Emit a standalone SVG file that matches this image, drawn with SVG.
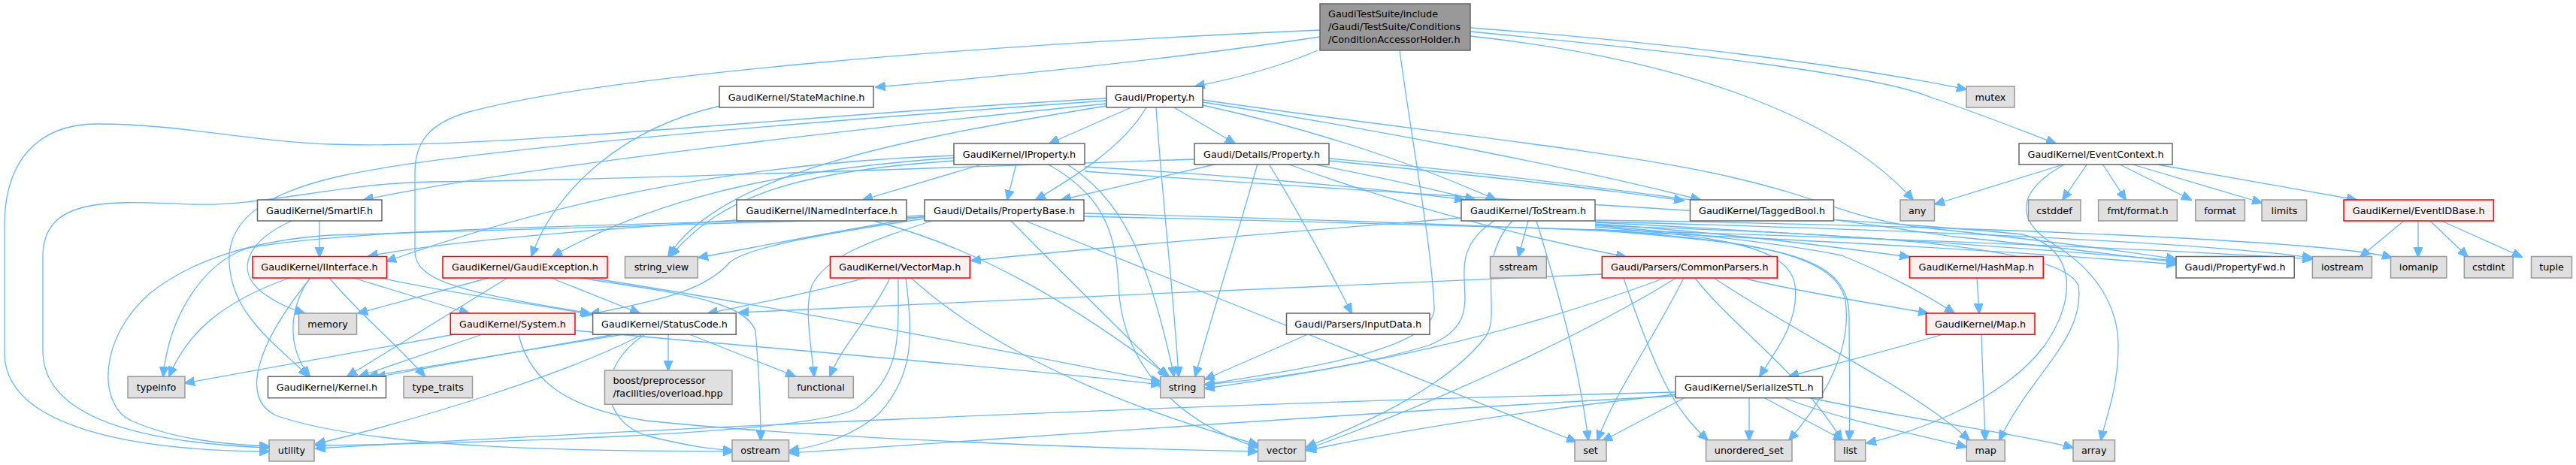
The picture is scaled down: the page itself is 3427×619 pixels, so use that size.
<svg xmlns="http://www.w3.org/2000/svg" width="3427" height="619" viewBox="0 0 3427 619">
<defs>
<marker id="ah" markerUnits="userSpaceOnUse" markerWidth="14" markerHeight="12" viewBox="0 0 13 11" refX="12" refY="5.5" orient="auto">
<path d="M0,0 L13,5.5 L0,11 z" fill="#63b8ff" stroke="#63b8ff"/>
</marker>
</defs>
<style>
rect{stroke-width:1.5}
.w rect{fill:#ffffff;stroke:#666666}
.g rect{fill:#e0e0e0;stroke:#999999}
.r rect{fill:#fff0f0;stroke:#ff0000}
.root rect{fill:#999999;stroke:#666666}
text{font-family:"DejaVu Sans",sans-serif;font-size:12.8px;fill:#000000}
.c{text-anchor:middle}
#edges path{fill:none;stroke:#63b8ff;stroke-width:1.3;marker-end:url(#ah)}
</style>
<rect width="3427" height="619" fill="#ffffff"/>
<g id="edges">
<path d="M1753,67 C1700,90 1640,105 1590,115"/>
<path d="M1756,49 C1550,80 1350,100 1165,116"/>
<path d="M1756,40 C1300,60 800,100 620,150 C570,165 552,190 552,230 L552,335 C552,375 620,390 785,417"/>
<path d="M1862,67 C1880,200 1905,330 1908,410 C1910,470 1700,495 1603,512"/>
<path d="M1956,37 C2200,55 2450,85 2616,119"/>
<path d="M1956,42 C2250,70 2500,100 2570,130 C2630,150 2680,170 2735,191"/>
<path d="M1956,48 C2250,80 2450,160 2545,266"/>
<path d="M958,141 C830,170 740,250 707,341"/>
<path d="M1505,143 L1396,191"/>
<path d="M1525,143 C1495,195 1430,235 1378,266"/>
<path d="M1538,143 C1545,250 1562,400 1568,501"/>
<path d="M1562,143 L1643,191"/>
<path d="M1600,140 C1760,175 1900,225 1990,266"/>
<path d="M1600,136 C1850,175 2100,225 2262,266"/>
<path d="M1600,133 C1850,170 2150,200 2300,235 C2420,262 2460,290 2550,302 C2700,318 2800,330 2895,345"/>
<path d="M1472,138 C1200,165 700,220 484,266"/>
<path d="M1472,141 C1200,185 960,230 889,341"/>
<path d="M1472,134 C1100,160 600,200 450,235 C340,260 302,300 305,350 C308,420 370,460 410,501"/>
<path d="M1472,131 C1100,150 650,200 440,192 C330,188 240,165 130,165 C45,165 6,220 6,300 L6,470 C6,560 150,600 358,601"/>
<path d="M1620,218 C1540,237 1470,252 1412,266"/>
<path d="M1673,218 C1650,300 1612,420 1590,501"/>
<path d="M1688,218 C1720,270 1770,360 1798,417"/>
<path d="M1745,218 C1830,235 1900,250 1962,266"/>
<path d="M1768,214 C1950,232 2120,250 2240,267"/>
<path d="M1712,218 C1800,250 1950,300 2163,342"/>
<path d="M1589,212 C1200,225 800,240 575,242 C450,244 350,275 257,272 C150,268 58,260 57,340 L57,470 C60,560 200,590 358,596"/>
<path d="M1768,211 C2050,235 2350,280 2600,315 C2750,330 2820,340 2895,349"/>
<path d="M1309,218 L1148,266"/>
<path d="M1352,218 L1340,266"/>
<path d="M1419,218 C1490,265 1525,330 1562,501"/>
<path d="M1393,218 C1460,255 1485,300 1488,380 C1492,480 1560,560 1674,596"/>
<path d="M1443,222 C1620,232 1830,250 1948,266"/>
<path d="M1443,228 C1900,262 2500,292 2690,312 C2765,330 2762,400 2720,460 C2660,540 2530,580 2483,590"/>
<path d="M1269,210 C1050,225 880,260 735,341"/>
<path d="M1269,214 C1060,228 960,260 892,341"/>
<path d="M1269,207 C900,220 650,300 514,348"/>
<path d="M980,293 C800,305 600,320 490,341"/>
<path d="M1162,294 C1300,330 1420,400 1555,501"/>
<path d="M1345,294 C1420,370 1480,430 1553,501"/>
<path d="M1364,294 L2097,588"/>
<path d="M1442,284 C1900,295 2500,320 2895,352"/>
<path d="M1442,288 C1950,300 2700,320 3076,345"/>
<path d="M1230,291 C1100,310 990,330 970,350 C940,385 880,400 785,418"/>
<path d="M1230,288 C1100,310 1000,330 929,343"/>
<path d="M1230,287 C900,300 500,300 330,330 C270,350 225,420 217,501"/>
<path d="M1230,289 C900,300 500,310 440,313 C330,320 250,350 200,390 C130,450 130,540 175,560 C230,585 300,592 358,594"/>
<path d="M1240,294 C1160,320 1100,340 1080,380 C1070,410 1078,450 1083,501"/>
<path d="M2033,294 L2020,342"/>
<path d="M1944,290 C1700,310 1450,330 1292,347"/>
<path d="M1988,294 C1900,350 2000,420 1900,460 C1800,490 1680,505 1603,512"/>
<path d="M2012,294 C1960,350 2000,420 1975,450 C1920,520 1800,570 1738,595"/>
<path d="M2044,294 C2070,380 2100,480 2113,586"/>
<path d="M2122,298 C2300,310 2450,330 2540,342"/>
<path d="M2122,300 C2300,315 2400,330 2450,340 C2500,360 2560,390 2600,417"/>
<path d="M2122,296 C2400,310 2700,330 2895,347"/>
<path d="M2122,295 C2500,305 2900,320 3076,343"/>
<path d="M2122,293 C2600,300 3100,320 3182,343"/>
<path d="M2122,302 C2280,315 2380,325 2388,380 C2394,430 2360,470 2341,501"/>
<path d="M2122,305 C2300,320 2440,330 2455,400 C2465,470 2420,540 2380,586"/>
<path d="M2122,306 C2350,325 2460,335 2460,420 C2460,500 2462,540 2460,586"/>
<path d="M2122,300 C2400,310 2740,320 2765,380 C2775,450 2700,500 2660,586"/>
<path d="M2748,218 C2690,250 2670,290 2740,330 C2800,370 2818,420 2818,460 C2818,520 2800,560 2795,586"/>
<path d="M2131,365 C1800,380 1300,400 983,416"/>
<path d="M2215,370 C2000,450 1800,490 1603,517"/>
<path d="M2230,370 C2100,450 1900,540 1738,598"/>
<path d="M2240,370 C2200,450 2150,520 2125,586"/>
<path d="M2160,370 C2180,430 2200,480 2215,510 C2235,550 2255,570 2272,586"/>
<path d="M2255,370 C2300,430 2400,500 2450,586"/>
<path d="M2280,370 C2400,450 2550,520 2620,586"/>
<path d="M2318,370 C2400,390 2500,405 2565,417"/>
<path d="M2630,370 L2633,417"/>
<path d="M2585,445 C2500,470 2420,490 2380,501"/>
<path d="M2636,445 L2641,586"/>
<path d="M2327,530 L2327,586"/>
<path d="M2348,530 L2452,586"/>
<path d="M2375,530 C2450,560 2560,580 2616,595"/>
<path d="M2400,528 C2550,560 2700,580 2758,596"/>
<path d="M2240,530 L2132,587"/>
<path d="M2229,525 C2000,550 1850,575 1738,600"/>
<path d="M2229,522 C1500,540 800,575 420,597"/>
<path d="M2229,527 C1800,550 1400,580 1050,603"/>
<path d="M1150,370 C1080,390 1000,405 942,417"/>
<path d="M1184,370 C1160,420 1120,460 1104,501"/>
<path d="M1195,370 C1195,450 1200,500 1140,543 C1080,580 600,590 420,593"/>
<path d="M1205,370 C1215,450 1215,500 1170,550 C1130,585 1080,595 1050,600"/>
<path d="M1212,370 C1300,450 1450,530 1674,592"/>
<path d="M830,445 L490,501"/>
<path d="M818,445 L500,502"/>
<path d="M889,445 L889,493"/>
<path d="M917,445 L1058,501"/>
<path d="M855,445 C750,500 550,560 420,591"/>
<path d="M858,445 C790,490 800,560 860,580 C920,595 950,598 975,600"/>
<path d="M605,445 L246,510"/>
<path d="M642,445 L478,501"/>
<path d="M765,440 C1100,470 1400,495 1544,512"/>
<path d="M690,445 C705,510 760,545 860,560 C1100,585 1500,598 1673,601"/>
<path d="M470,370 L624,417"/>
<path d="M506,370 C620,395 720,405 787,419"/>
<path d="M385,370 C300,400 250,440 225,501"/>
<path d="M412,370 C385,410 380,460 412,501"/>
<path d="M438,370 C480,420 530,460 565,501"/>
<path d="M413,370 C340,460 320,530 367,553 C500,600 800,600 975,601"/>
<path d="M425,294 L425,342"/>
<path d="M388,294 C330,320 310,360 350,390 C370,405 390,412 405,417"/>
<path d="M650,370 L476,417"/>
<path d="M675,370 L462,501"/>
<path d="M733,370 L851,417"/>
<path d="M772,370 C900,390 990,400 1005,440 C1010,500 1012,550 1012,586"/>
<path d="M786,370 C1100,420 1350,470 1544,508"/>
<path d="M1740,445 L1603,505"/>
<path d="M2748,218 L2574,272"/>
<path d="M2777,218 L2744,266"/>
<path d="M2797,218 L2828,266"/>
<path d="M2818,218 L2915,266"/>
<path d="M2834,218 L3009,270"/>
<path d="M2864,218 L3135,266"/>
<path d="M3198,294 L3140,342"/>
<path d="M3217,294 L3217,342"/>
<path d="M3233,294 L3283,342"/>
<path d="M3248,294 L3355,342"/>
</g>
<g id="root" class="root"><rect x="1756" y="5" width="200" height="62"/><text x="1767" y="22.8">GaudiTestSuite/include</text><text x="1767" y="39.5">/Gaudi/TestSuite/Conditions</text><text x="1767" y="56.8">/ConditionAccessorHolder.h</text></g>
<g id="n_statemachine" class="w"><rect x="957" y="115" width="205" height="28"/><text class="c" x="1059.5" y="133.5">GaudiKernel/StateMachine.h</text></g>
<g id="n_property" class="w"><rect x="1472" y="115" width="128" height="28"/><text class="c" x="1536" y="133.5">Gaudi/Property.h</text></g>
<g id="n_mutex" class="g"><rect x="2616" y="115" width="64" height="28"/><text class="c" x="2648" y="133.5">mutex</text></g>
<g id="n_iproperty" class="w"><rect x="1269" y="191" width="174" height="28"/><text class="c" x="1356" y="209.5">GaudiKernel/IProperty.h</text></g>
<g id="n_detailsproperty" class="w"><rect x="1589" y="191" width="179" height="28"/><text class="c" x="1678.5" y="209.5">Gaudi/Details/Property.h</text></g>
<g id="n_eventcontext" class="w"><rect x="2686" y="191" width="204" height="28"/><text class="c" x="2788" y="209.5">GaudiKernel/EventContext.h</text></g>
<g id="n_smartif" class="w"><rect x="342.5" y="266" width="165.5" height="28"/><text class="c" x="425" y="284.5">GaudiKernel/SmartIF.h</text></g>
<g id="n_inamedinterface" class="w"><rect x="980" y="266" width="226" height="28"/><text class="c" x="1093" y="284.5">GaudiKernel/INamedInterface.h</text></g>
<g id="n_propertybase" class="w"><rect x="1230" y="266" width="212" height="28"/><text class="c" x="1336" y="284.5">Gaudi/Details/PropertyBase.h</text></g>
<g id="n_tostream" class="w"><rect x="1944" y="266" width="178" height="28"/><text class="c" x="2033" y="284.5">GaudiKernel/ToStream.h</text></g>
<g id="n_taggedbool" class="w"><rect x="2248.5" y="266" width="191" height="28"/><text class="c" x="2344" y="284.5">GaudiKernel/TaggedBool.h</text></g>
<g id="n_any" class="g"><rect x="2528" y="266" width="45.5" height="28"/><text class="c" x="2550.7" y="284.5">any</text></g>
<g id="n_cstddef" class="g"><rect x="2698.5" y="266" width="69.5" height="28"/><text class="c" x="2733" y="284.5">cstddef</text></g>
<g id="n_fmtformat" class="g"><rect x="2791.6" y="266" width="104.8" height="28"/><text class="c" x="2844" y="284.5">fmt/format.h</text></g>
<g id="n_format" class="g"><rect x="2920.7" y="266" width="65.7" height="28"/><text class="c" x="2953.5" y="284.5">format</text></g>
<g id="n_limits" class="g"><rect x="3009" y="266" width="59.6" height="28"/><text class="c" x="3039" y="284.5">limits</text></g>
<g id="n_eventidbase" class="r"><rect x="3118" y="266" width="199.4" height="28"/><text class="c" x="3217.7" y="284.5">GaudiKernel/EventIDBase.h</text></g>
<g id="n_iinterface" class="r"><rect x="336" y="341.5" width="178.5" height="28.5"/><text class="c" x="425" y="360.3">GaudiKernel/IInterface.h</text></g>
<g id="n_gaudiexception" class="r"><rect x="589" y="341.5" width="219" height="28.5"/><text class="c" x="698.5" y="360.3">GaudiKernel/GaudiException.h</text></g>
<g id="n_string_view" class="g"><rect x="831.5" y="341.5" width="96.8" height="28.5"/><text class="c" x="880" y="360.3">string_view</text></g>
<g id="n_vectormap" class="r"><rect x="1104.4" y="341.5" width="185.9" height="28.5"/><text class="c" x="1197.3" y="360.3">GaudiKernel/VectorMap.h</text></g>
<g id="n_sstream" class="g"><rect x="1982.5" y="341.5" width="74.8" height="28.5"/><text class="c" x="2020" y="360.3">sstream</text></g>
<g id="n_commonparsers" class="r"><rect x="2131.3" y="341.5" width="233" height="28.5"/><text class="c" x="2247.8" y="360.3">Gaudi/Parsers/CommonParsers.h</text></g>
<g id="n_hashmap" class="r"><rect x="2540.4" y="341.5" width="177.8" height="28.5"/><text class="c" x="2629.3" y="360.3">GaudiKernel/HashMap.h</text></g>
<g id="n_propertyfwd" class="w"><rect x="2895" y="341.5" width="157.2" height="28.5"/><text class="c" x="2973.6" y="360.3">Gaudi/PropertyFwd.h</text></g>
<g id="n_iostream" class="g"><rect x="3076.4" y="341.5" width="79" height="28.5"/><text class="c" x="3116" y="360.3">iostream</text></g>
<g id="n_iomanip" class="g"><rect x="3180.5" y="341.5" width="74.3" height="28.5"/><text class="c" x="3217.6" y="360.3">iomanip</text></g>
<g id="n_cstdint" class="g"><rect x="3278.3" y="341.5" width="64.9" height="28.5"/><text class="c" x="3310.7" y="360.3">cstdint</text></g>
<g id="n_tuple" class="g"><rect x="3367.5" y="341.5" width="54" height="28.5"/><text class="c" x="3394.5" y="360.3">tuple</text></g>
<g id="n_memory" class="g"><rect x="397.5" y="417" width="77" height="28.3"/><text class="c" x="436" y="435.7">memory</text></g>
<g id="n_system" class="r"><rect x="599.3" y="417" width="165.7" height="28.3"/><text class="c" x="682" y="435.7">GaudiKernel/System.h</text></g>
<g id="n_statuscode" class="w"><rect x="788.6" y="417" width="190.6" height="28.3"/><text class="c" x="884" y="435.7">GaudiKernel/StatusCode.h</text></g>
<g id="n_inputdata" class="w"><rect x="1711.5" y="417" width="190.5" height="28.3"/><text class="c" x="1806.7" y="435.7">Gaudi/Parsers/InputData.h</text></g>
<g id="n_map_h" class="r"><rect x="2562.3" y="417" width="144.7" height="28.3"/><text class="c" x="2634.6" y="435.7">GaudiKernel/Map.h</text></g>
<g id="n_typeinfo" class="g"><rect x="170" y="501.3" width="76" height="28.4"/><text class="c" x="208" y="520">typeinfo</text></g>
<g id="n_kernel" class="w"><rect x="356.5" y="501.3" width="157" height="28.4"/><text class="c" x="435" y="520">GaudiKernel/Kernel.h</text></g>
<g id="n_type_traits" class="g"><rect x="537" y="501.3" width="91.5" height="28.4"/><text class="c" x="582.7" y="520">type_traits</text></g>
<g id="n_boost" class="g"><rect x="804.5" y="493" width="169.5" height="45.3"/><text x="815.5" y="511">boost/preprocessor</text><text x="815.5" y="527.8">/facilities/overload.hpp</text></g>
<g id="n_functional" class="g"><rect x="1049" y="501.3" width="86.3" height="28.4"/><text class="c" x="1092" y="520">functional</text></g>
<g id="n_string" class="g"><rect x="1543.7" y="501.3" width="58.7" height="28.4"/><text class="c" x="1573" y="520">string</text></g>
<g id="n_serializestl" class="w"><rect x="2229" y="501.3" width="195.6" height="28.4"/><text class="c" x="2326.8" y="520">GaudiKernel/SerializeSTL.h</text></g>
<g id="n_utility" class="g"><rect x="358" y="585.7" width="60" height="28.3"/><text class="c" x="388" y="604.4">utility</text></g>
<g id="n_ostream" class="g"><rect x="974" y="585.7" width="75.5" height="28.3"/><text class="c" x="1011.7" y="604.4">ostream</text></g>
<g id="n_vector" class="g"><rect x="1673.5" y="585.7" width="63.1" height="28.3"/><text class="c" x="1705" y="604.4">vector</text></g>
<g id="n_set" class="g"><rect x="2095" y="585.7" width="42" height="28.3"/><text class="c" x="2116" y="604.4">set</text></g>
<g id="n_unordered_set" class="g"><rect x="2269.6" y="585.7" width="114.4" height="28.3"/><text class="c" x="2326.8" y="604.4">unordered_set</text></g>
<g id="n_list" class="g"><rect x="2441" y="585.7" width="40.7" height="28.3"/><text class="c" x="2461.3" y="604.4">list</text></g>
<g id="n_map" class="g"><rect x="2616.3" y="585.7" width="50.9" height="28.3"/><text class="c" x="2641.7" y="604.4">map</text></g>
<g id="n_array" class="g"><rect x="2758" y="585.7" width="55.5" height="28.3"/><text class="c" x="2785.7" y="604.4">array</text></g>
</svg>
